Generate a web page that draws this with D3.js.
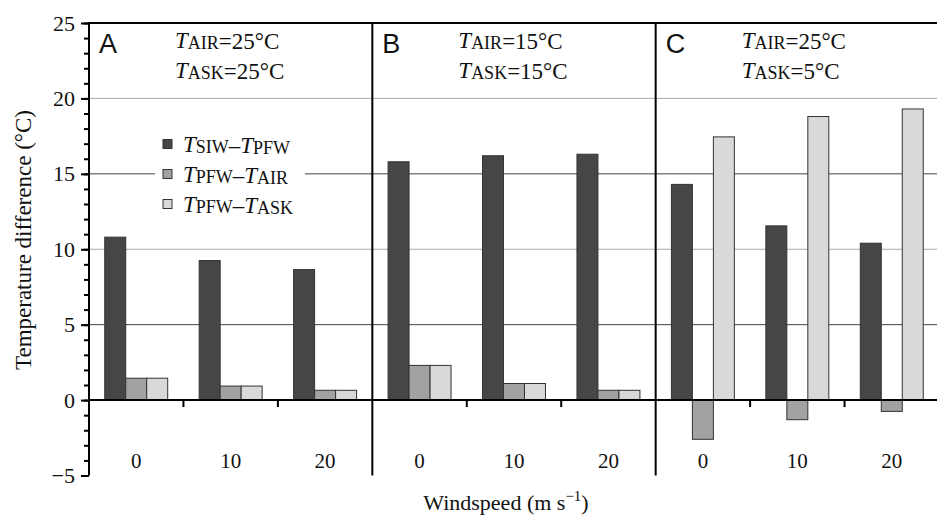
<!DOCTYPE html>
<html>
<head>
<meta charset="utf-8">
<script src="https://cdn.jsdelivr.net/npm/d3@7"></script>
<style>
  body { margin: 0; background: #fff; }
  svg text { font-family: "Liberation Serif", "Times New Roman", Times, serif; fill: #111; }
  svg text.panel-letter { font-family: "Liberation Sans", Arial, sans-serif; }
</style>
</head>
<body>
<div id="plot"></div>
<script>
// data
let panels = ["A", "B", "C"];
let speeds = ["0", "10", "20"];
let airTemps = [25, 15, 25];
let askTemps = [25, 15, 5];
let siwMinusPfw = [[10.8, 9.25, 8.65], [15.8, 16.2, 16.3], [14.3, 11.55, 10.4]];
let pfwMinusAir = [[1.45, 0.93, 0.65], [2.3, 1.1, 0.65], [-2.6, -1.3, -0.75]];
let pfwMinusAsk = [[1.45, 0.93, 0.65], [2.3, 1.1, 0.65], [17.45, 18.8, 19.3]];
let seriesNames = [["SIW", "PFW"], ["PFW", "AIR"], ["PFW", "ASK"]];
let yTicks = [-5, 0, 5, 10, 15, 20, 25];

let width = 937;
let height = 516;
let plotLeft = 89;
let plotRight = 939;
let plotTop = 23;
let plotBottom = 475.5;

let colors = ["#464646", "#a2a2a2", "#d9d9d9"];

let svg = d3.select("#plot")
    .append("svg")
    .attr("width", width)
    .attr("height", height);

let yScale = d3.scaleLinear()
    .domain([-5, 25])
    .range([plotBottom, plotTop]);

// one band per (panel, speed)
let cats = [];
panels.forEach((p, i) => speeds.forEach((s, j) => cats.push(p + s)));

let xScale = d3.scaleBand()
    .domain(cats)
    .range([plotLeft, plotRight]);

let seriesScale = d3.scaleBand()
    .domain([0, 1, 2])
    .range([0, xScale.bandwidth()])
    .paddingOuter(0.75)
    .paddingInner(0);

// gridlines
[5, 10, 15, 20].forEach(v => {
    svg.append("line")
        .attr("x1", plotLeft).attr("x2", width)
        .attr("y1", yScale(v)).attr("y2", yScale(v))
        .style("stroke", v % 10 == 0 ? "#aaa" : "#444")
        .style("stroke-width", 1);
});

// legend background hides the gridline behind it
svg.append("rect")
    .attr("x", 155).attr("y", 128)
    .attr("width", 150).attr("height", 92)
    .style("fill", "#fff");

// bars
let allSeries = [siwMinusPfw, pfwMinusAir, pfwMinusAsk];
panels.forEach((p, i) => {
    speeds.forEach((s, j) => {
        allSeries.forEach((series, k) => {
            let v = series[i][j];
            svg.append("rect")
                .attr("x", xScale(p + s) + seriesScale(k))
                .attr("y", yScale(Math.max(0, v)))
                .attr("width", seriesScale.bandwidth())
                .attr("height", Math.abs(yScale(v) - yScale(0)))
                .style("fill", colors[k])
                .style("stroke", "#333")
                .style("stroke-width", 1);
        });
    });
});

// zero line
svg.append("line")
    .attr("x1", plotLeft).attr("x2", width)
    .attr("y1", yScale(0)).attr("y2", yScale(0))
    .style("stroke", "#000").style("stroke-width", 2);

// ticks between windspeed groups
panels.forEach(p => {
    speeds.slice(1).forEach(s => {
        svg.append("line")
            .attr("x1", xScale(p + s)).attr("x2", xScale(p + s))
            .attr("y1", yScale(0)).attr("y2", yScale(0) + 7)
            .style("stroke", "#000").style("stroke-width", 2);
    });
});

// frame: top line, panel dividers
svg.append("line")
    .attr("x1", plotLeft).attr("x2", width)
    .attr("y1", plotTop).attr("y2", plotTop)
    .style("stroke", "#000").style("stroke-width", 2);

panels.slice(1).forEach(p => {
    svg.append("line")
        .attr("x1", xScale(p + speeds[0])).attr("x2", xScale(p + speeds[0]))
        .attr("y1", plotTop).attr("y2", plotBottom)
        .style("stroke", "#000").style("stroke-width", 2);
});

// y axis: minor then major
svg.append("g")
    .attr("transform", "translate(" + plotLeft + ",0)")
    .call(d3.axisLeft(yScale).ticks(30).tickSize(5).tickFormat(""))
    .call(g => g.select(".domain").remove())
    .selectAll("line").style("stroke", "#000").style("stroke-width", 2);

let yAxisG = svg.append("g")
    .attr("transform", "translate(" + plotLeft + ",0)")
    .call(d3.axisLeft(yScale).tickValues(yTicks).tickSize(8).tickPadding(6))
    .call(g => g.select(".domain").remove());
yAxisG.selectAll("line").style("stroke", "#000").style("stroke-width", 2);
yAxisG.selectAll("text")
    .style("font-size", "22px")
    .attr("fill", "#111");

svg.append("line")
    .attr("x1", plotLeft).attr("x2", plotLeft)
    .attr("y1", plotTop - 1).attr("y2", plotBottom)
    .style("stroke", "#000").style("stroke-width", 2);

// x tick labels
panels.forEach(p => {
    speeds.forEach(s => {
        svg.append("text")
            .attr("x", xScale(p + s) + xScale.bandwidth() / 2)
            .attr("y", 468)
            .style("text-anchor", "middle")
            .style("font-size", "21px")
            .text(s);
    });
});

// axis titles
let yLabelCenter = { x: 31, y: 240 };
svg.append("text")
    .attr("x", yLabelCenter.x)
    .attr("y", yLabelCenter.y)
    .style("text-anchor", "middle")
    .style("font-size", "23px")
    .attr("transform", "rotate(-90," + yLabelCenter.x + "," + yLabelCenter.y + ")")
    .text("Temperature difference (°C)");

let xTitle = svg.append("text")
    .attr("x", 506)
    .attr("y", 510)
    .style("text-anchor", "middle")
    .style("font-size", "22px");
xTitle.append("tspan").text("Windspeed (m s");
xTitle.append("tspan").attr("dy", -9).style("font-size", "15px").text("−1");
xTitle.append("tspan").attr("dy", 9).text(")");

// helper: italic T with small-caps style subscript
function addT(textSel, sub) {
    textSel.append("tspan").style("font-style", "italic").text("T");
    textSel.append("tspan").style("font-size", "18px").attr("dy", 1).text(sub);
    textSel.append("tspan").attr("dy", -1).text("");
}

// panel headers
panels.forEach((p, i) => {
    let x0 = xScale(p + speeds[0]);
    svg.append("text")
        .attr("class", "panel-letter")
        .attr("x", x0 + 10)
        .attr("y", 53)
        .style("font-size", "27px")
        .text(p);

    let line1 = svg.append("text")
        .attr("x", x0 + 86)
        .attr("y", 48)
        .style("font-size", "23px");
    addT(line1, "AIR");
    line1.append("tspan").text("=" + airTemps[i] + "°C");

    let line2 = svg.append("text")
        .attr("x", x0 + 86)
        .attr("y", 78)
        .style("font-size", "23px");
    addT(line2, "ASK");
    line2.append("tspan").text("=" + askTemps[i] + "°C");
});

// legend
seriesNames.forEach((names, k) => {
    let cy = 144 + k * 30;
    svg.append("rect")
        .attr("x", 163).attr("y", cy - 4.5)
        .attr("width", 9).attr("height", 9)
        .style("fill", colors[k])
        .style("stroke", "#333")
        .style("stroke-width", 1);
    let t = svg.append("text")
        .attr("x", 183)
        .attr("y", cy + 8)
        .style("font-size", "23px");
    addT(t, names[0]);
    t.append("tspan").text("–");
    addT(t, names[1]);
});
</script>
</body>
</html>
